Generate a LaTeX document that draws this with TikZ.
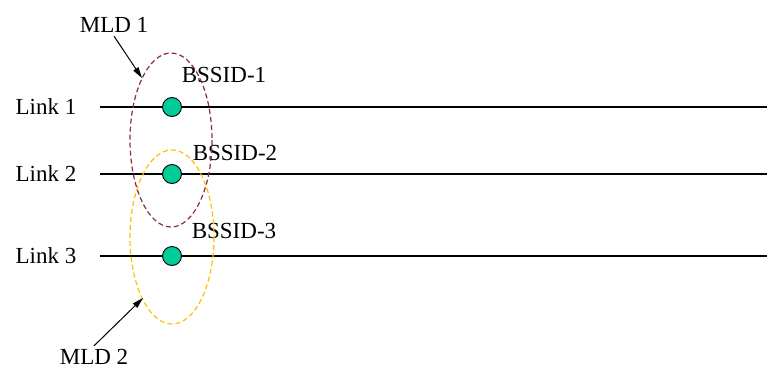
\documentclass[tikz,border=0pt]{standalone}
\usepackage{fontspec}
\setmainfont{Liberation Serif}
\usepackage{xcolor}
\usetikzlibrary{arrows.meta}
\definecolor{bssgreen}{HTML}{00CC99}
\definecolor{mldred}{HTML}{8B2E45}
\definecolor{mldyellow}{HTML}{FFC000}

\begin{document}
\begin{tikzpicture}[x=1pt,y=-1pt,font=\fontsize{23}{27}\selectfont,
    linkline/.style={black,line width=1.3pt},
    bss/.style={circle,draw=black,fill=bssgreen,line width=0.9pt,minimum size=19pt,inner sep=0pt},
    mld/.style={dash pattern=on 5pt off 3pt,line width=1.2pt},
    pointer/.style={-{Triangle[length=11pt,width=6pt]},line width=1pt}]
  \useasboundingbox (0,0) rectangle (769,389);

  % links
  \node (link1) at (46,107) {Link 1};
  \node (link2) at (46,174) {Link 2};
  \node (link3) at (46,256) {Link 3};
  \coordinate (l1a) at (100,107); \coordinate (l1b) at (767,107);
  \coordinate (l2a) at (100,174); \coordinate (l2b) at (767,174);
  \coordinate (l3a) at (100,256); \coordinate (l3b) at (767,256);
  \draw[linkline] (l1a) -- (l1b);
  \draw[linkline] (l2a) -- (l2b);
  \draw[linkline] (l3a) -- (l3b);

  % affiliated APs
  \node[bss] (ap1) at (172,107) {};
  \node[bss] (ap2) at (172,174) {};
  \node[bss] (ap3) at (172,256) {};
  \node (bss1) at (224,75) {BSSID-1};
  \node (bss2) at (235,153) {BSSID-2};
  \node (bss3) at (234,231) {BSSID-3};

  % multi-link devices
  \draw[mld,mldred] (171,140) ellipse [x radius=41,y radius=87];
  \draw[mld,mldyellow] (172,237) ellipse [x radius=42,y radius=87];

  \node (mld1) at (114,25) {MLD 1};
  \node (mld2) at (94,357) {MLD 2};
  \coordinate (mld1tip) at (142,78);
  \coordinate (mld2tip) at (143,298);
  \draw[pointer] (mld1.south) -- (mld1tip);
  \draw[pointer] (mld2.north) -- (mld2tip);
\end{tikzpicture}
\end{document}
